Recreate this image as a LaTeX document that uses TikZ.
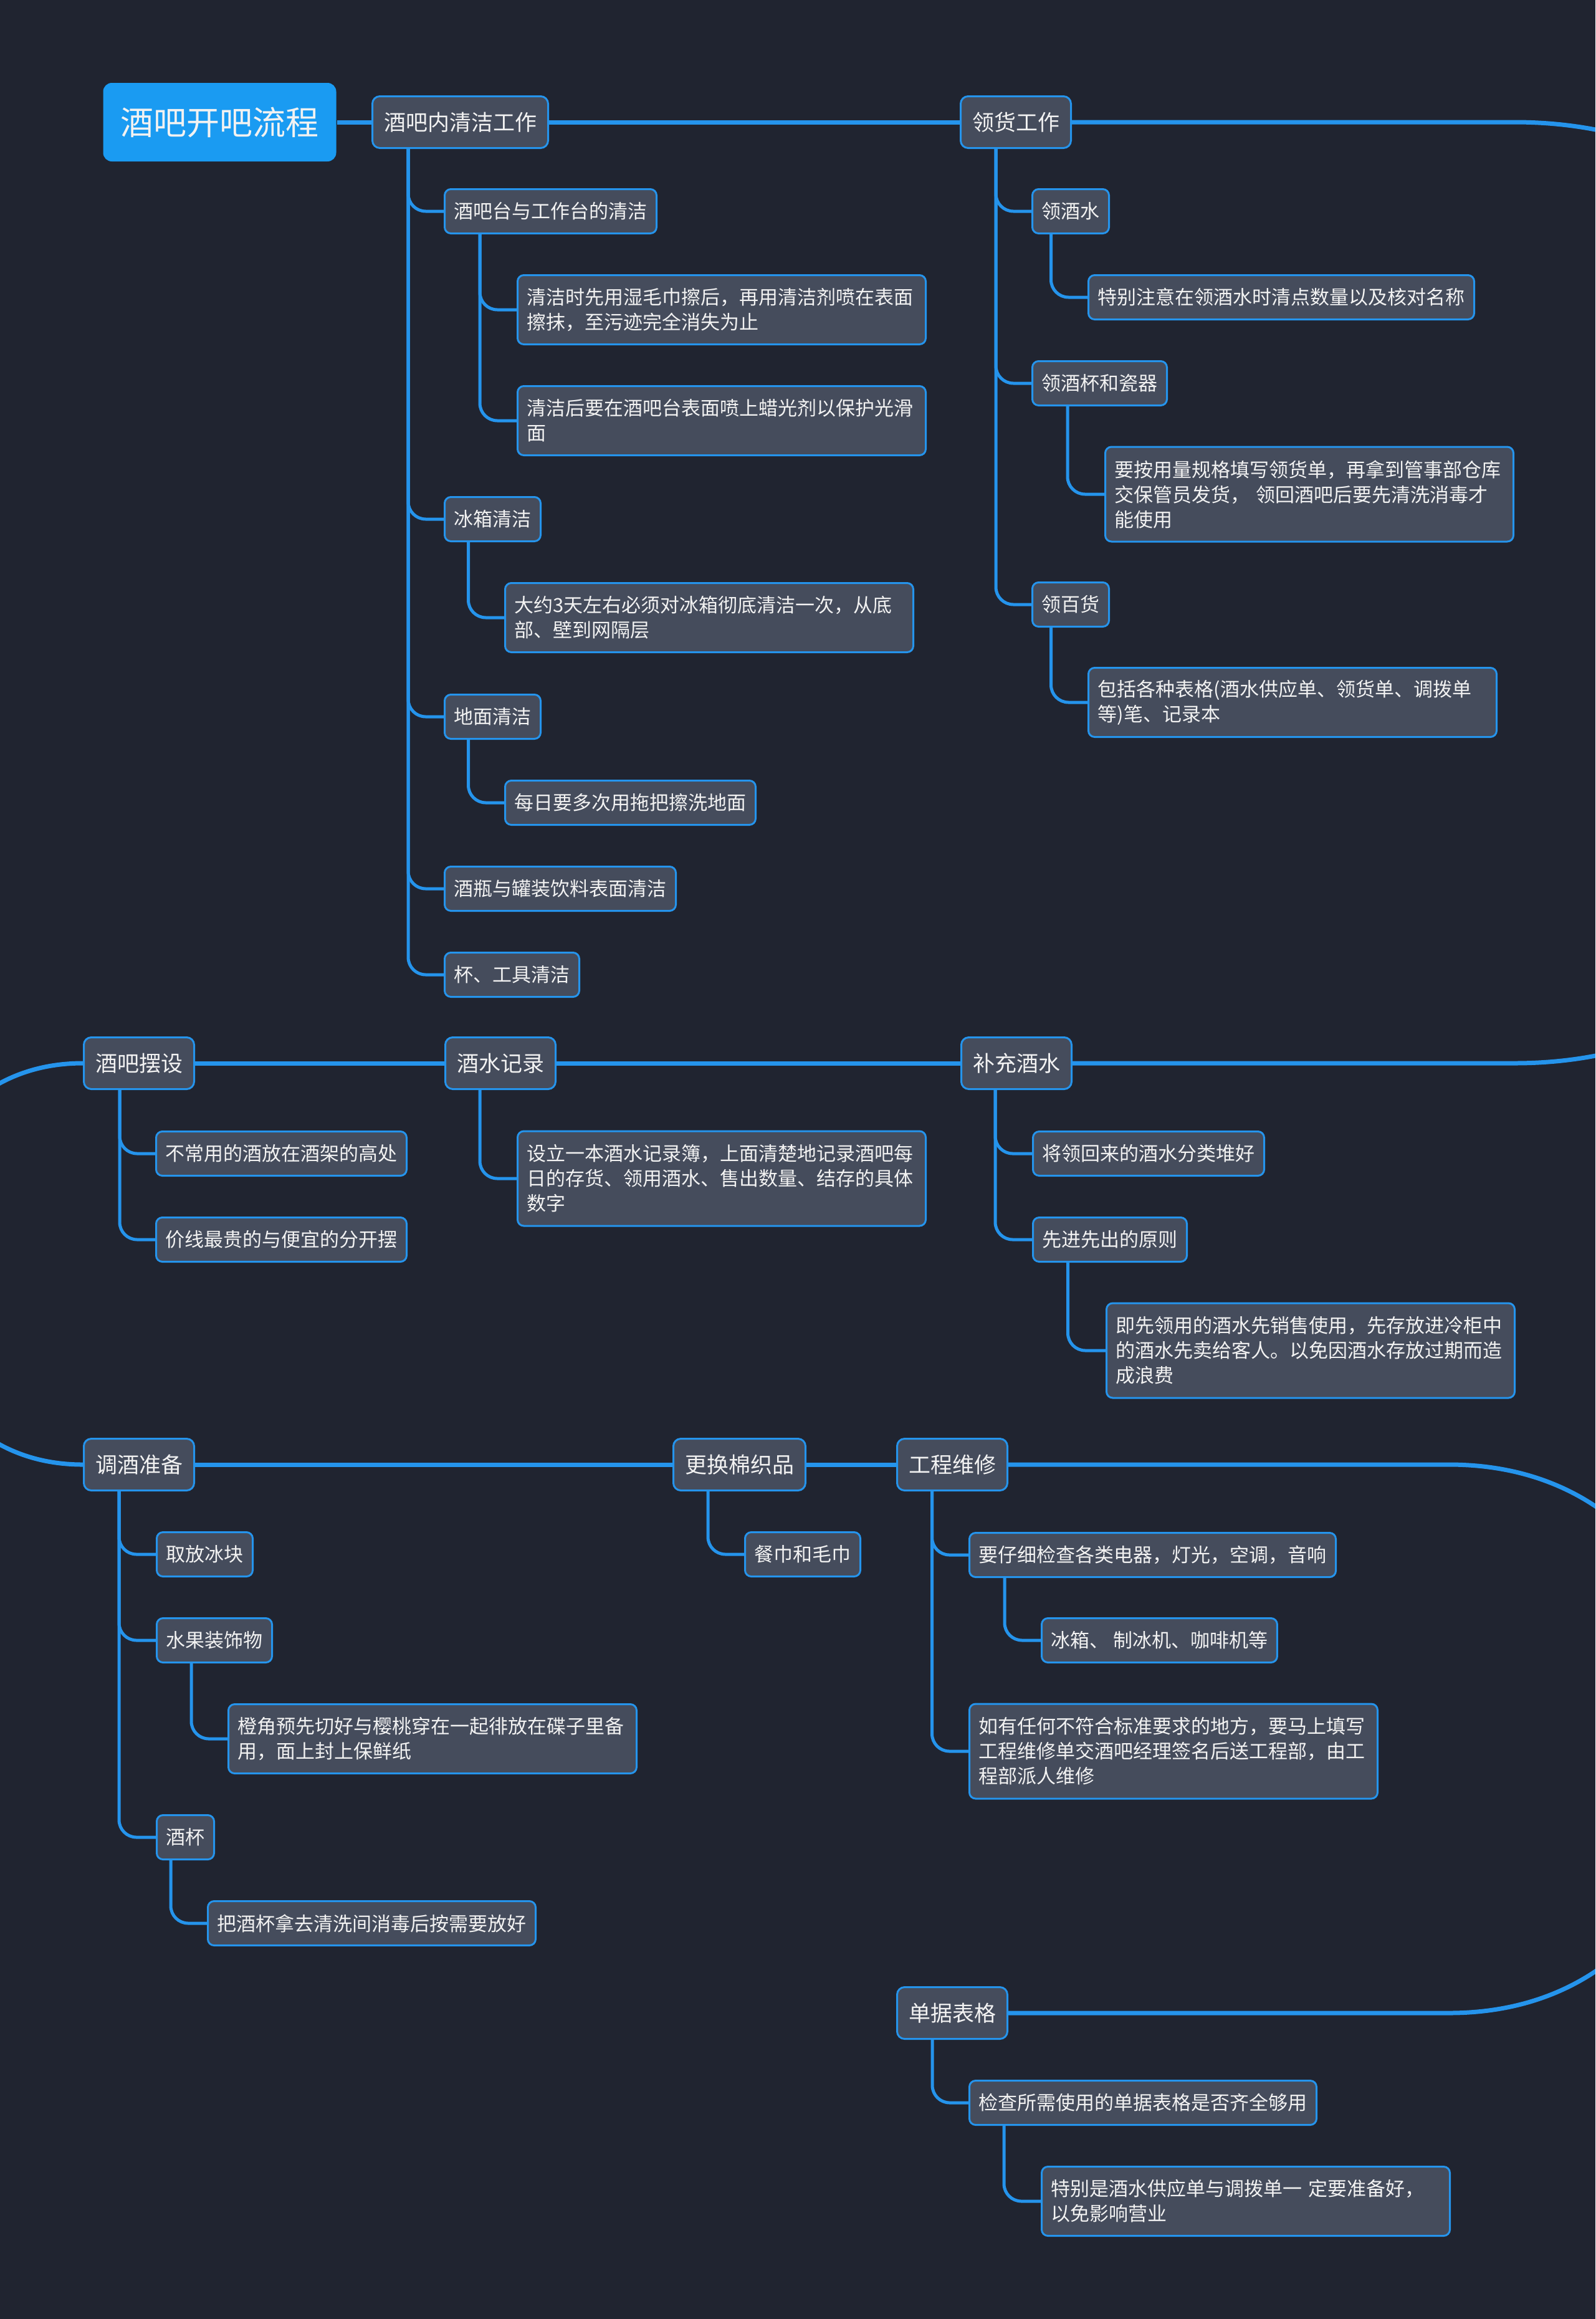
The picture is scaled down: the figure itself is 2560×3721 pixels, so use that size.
\documentclass[tikz,border=0pt]{standalone}
\usepackage{fontspec}
\setmainfont{Noto Sans CJK SC}
\usetikzlibrary{backgrounds}
\definecolor{cbg}{HTML}{202430}
\definecolor{cnode}{HTML}{454C5C}
\definecolor{cline}{HTML}{2594EC}
\definecolor{croot}{HTML}{1A9BF2}
\definecolor{ctext}{HTML}{F2F2F2}
\tikzset{
  every picture/.style={line width=1.5pt},
  rootbox/.style={fill=croot, rounded corners=7pt, text=ctext, anchor=west, inner xsep=14pt, minimum height=63pt, font=\fontsize{26.5pt}{30pt}\selectfont},
  topic/.style={draw=cline, fill=cnode, rounded corners=6pt, text=ctext, anchor=west, inner xsep=9.25pt, inner ysep=4pt, minimum height=41.5pt, font=\fontsize{17.5pt}{21pt}\selectfont},
  sub/.style={draw=cline, fill=cnode, rounded corners=5pt, text=ctext, anchor=west, inner xsep=7.5pt, inner ysep=4pt, minimum height=35.5pt, font=\fontsize{15.5pt}{20pt}\selectfont},
  note/.style={sub, align=left, text width=312.5pt, minimum height=#1},
  note/.default=55.5pt,
  spine/.style={draw=cline, line width=3.5pt},
  branch/.style={draw=cline, line width=2.5pt, rounded corners=14pt},
}

\begin{document}
\begin{tikzpicture}[x=0.5pt, y=-0.5pt]
  \useasboundingbox (0,0) rectangle (2560,3721);
  \begin{scope}[on background layer]
    \fill[cbg] (0,0) rectangle (2560,3721);
  \end{scope}
  % row 1
  \node[rootbox] (root) at (164,196) {酒吧开吧流程};
  \node[topic] (clean) at (596,196) {酒吧内清洁工作};
  \node[topic] (goods) at (1540,196) {领货工作};
  \node[sub] (c1) at (712,339) {酒吧台与工作台的清洁};
  \node[note] (c1a) at (829,497) {清洁时先用湿毛巾擦后，再用清洁剂喷在表面\\擦抹，至污迹完全消失为止};
  \node[note] (c1b) at (829,675) {清洁后要在酒吧台表面喷上蜡光剂以保护光滑\\面};
  \node[sub] (c2) at (712,833) {冰箱清洁};
  \node[note] (c2a) at (809,991) {大约3天左右必须对冰箱彻底清洁一次，从底\\部、壁到网隔层};
  \node[sub] (c3) at (712,1150) {地面清洁};
  \node[sub] (c3a) at (809,1288) {每日要多次用拖把擦洗地面};
  \node[sub] (c4) at (712,1426) {酒瓶与罐装饮料表面清洁};
  \node[sub] (c5) at (712,1564) {杯、工具清洁};
  \node[sub] (g1) at (1655,339) {领酒水};
  \node[sub] (g1a) at (1745,477) {特别注意在领酒水时清点数量以及核对名称};
  \node[sub] (g2) at (1655,615) {领酒杯和瓷器};
  \node[note=76pt] (g2a) at (1772,793) {要按用量规格填写领货单，再拿到管事部仓库\\交保管员发货， 领回酒吧后要先清洗消毒才\\能使用};
  \node[sub] (g3) at (1655,970) {领百货};
  \node[note] (g3a) at (1745,1127) {包括各种表格(酒水供应单、领货单、调拨单\\等)笔、记录本};
  % row 2
  \node[topic] (set) at (133,1706) {酒吧摆设};
  \node[topic] (rec) at (713,1706) {酒水记录};
  \node[topic] (sup) at (1541,1706) {补充酒水};
  \node[sub] (s1) at (249,1851) {不常用的酒放在酒架的高处};
  \node[sub] (s2) at (249,1989) {价线最贵的与便宜的分开摆};
  \node[note=76pt] (r1) at (829,1891) {设立一本酒水记录簿，上面清楚地记录酒吧每\\日的存货、领用酒水、售出数量、结存的具体\\数字};
  \node[sub] (p1) at (1656,1851) {将领回来的酒水分类堆好};
  \node[sub] (p2) at (1656,1989) {先进先出的原则};
  \node[note=76pt] (p2a) at (1774,2167) {即先领用的酒水先销售使用，先存放进冷柜中\\的酒水先卖给客人。以免因酒水存放过期而造\\成浪费};
  % row 3
  \node[topic] (mix) at (133,2350) {调酒准备};
  \node[topic] (lin) at (1079,2350) {更换棉织品};
  \node[topic] (eng) at (1438,2350) {工程维修};
  \node[sub] (m1) at (250,2494) {取放冰块};
  \node[sub] (m2) at (250,2632) {水果装饰物};
  \node[note] (m2a) at (365,2790) {橙角预先切好与樱桃穿在一起徘放在碟子里备\\用，面上封上保鲜纸};
  \node[sub] (m3) at (250,2948) {酒杯};
  \node[sub] (m3a) at (332,3086) {把酒杯拿去清洗间消毒后按需要放好};
  \node[sub] (l1) at (1194,2494) {餐巾和毛巾};
  \node[sub] (e1) at (1554,2495) {要仔细检查各类电器，灯光，空调，音响};
  \node[sub] (e1a) at (1670,2632) {冰箱、 制冰机、咖啡机等};
  \node[note=76pt] (e2) at (1554,2810) {如有任何不符合标准要求的地方，要马上填写\\工程维修单交酒吧经理签名后送工程部，由工\\程部派人维修};
  % row 4
  \node[topic] (doc) at (1438,3230) {单据表格};
  \node[sub] (d1) at (1554,3374) {检查所需使用的单据表格是否齐全够用};
  \node[note] (d1a) at (1670,3532) {特别是酒水供应单与调拨单一 定要准备好，\\以免影响营业};
  % turning points of the spine
  \coordinate (turnA) at (2430,196);
  \coordinate (turnB) at (2430,1706);
  \coordinate (turnC) at (2325,2350);
  \coordinate (turnD) at (2325,3230);
  \begin{scope}[on background layer]
    \clip (0,0) rectangle (2560,3721);
    % spine
    \draw[spine] (root.east) -- (clean.west) (clean.east) -- (goods.west);
    \draw[spine] (goods.east) -- (turnA) .. controls +(873,0) and +(873,0) .. (turnB) -- (sup.east);
    \draw[spine] (set.east) -- (rec.west) (rec.east) -- (sup.west);
    \draw[spine] (set.west) .. controls +(-380,0) and +(-380,0) .. (mix.west);
    \draw[spine] (mix.east) -- (lin.west) (lin.east) -- (eng.west);
    \draw[spine] (eng.east) -- (turnC) .. controls +(558,0) and +(558,0) .. (turnD) -- (doc.east);
    % branches
    \foreach \c in {c1,c2,c3,c4,c5} \draw[branch] ([xshift=29.5pt]clean.south west) |- (\c.west);
    \foreach \c in {c1a,c1b} \draw[branch] ([xshift=29pt]c1.south west) |- (\c.west);
    \draw[branch] ([xshift=19.75pt]c2.south west) |- (c2a.west);
    \draw[branch] ([xshift=19.75pt]c3.south west) |- (c3a.west);
    \foreach \g in {g1,g2,g3} \draw[branch] ([xshift=29pt]goods.south west) |- (\g.west);
    \draw[branch] ([xshift=15.75pt]g1.south west) |- (g1a.west);
    \draw[branch] ([xshift=29pt]g2.south west) |- (g2a.west);
    \draw[branch] ([xshift=15.75pt]g3.south west) |- (g3a.west);
    \foreach \s in {s1,s2} \draw[branch] ([xshift=29.5pt]set.south west) |- (\s.west);
    \draw[branch] ([xshift=28.5pt]rec.south west) |- (r1.west);
    \foreach \p in {p1,p2} \draw[branch] ([xshift=28pt]sup.south west) |- (\p.west);
    \draw[branch] ([xshift=28.75pt]p2.south west) |- (p2a.west);
    \foreach \m in {m1,m2,m3} \draw[branch] ([xshift=29pt]mix.south west) |- (\m.west);
    \draw[branch] ([xshift=28.5pt]m2.south west) |- (m2a.west);
    \draw[branch] ([xshift=12pt]m3.south west) |- (m3a.west);
    \draw[branch] ([xshift=28.5pt]lin.south west) |- (l1.west);
    \foreach \e in {e1,e2} \draw[branch] ([xshift=28.75pt]eng.south west) |- (\e.west);
    \draw[branch] ([xshift=29pt]e1.south west) |- (e1a.west);
    \draw[branch] ([xshift=29pt]doc.south west) |- (d1.west);
    \draw[branch] ([xshift=28.5pt]d1.south west) |- (d1a.west);
  \end{scope}
\end{tikzpicture}
\end{document}
